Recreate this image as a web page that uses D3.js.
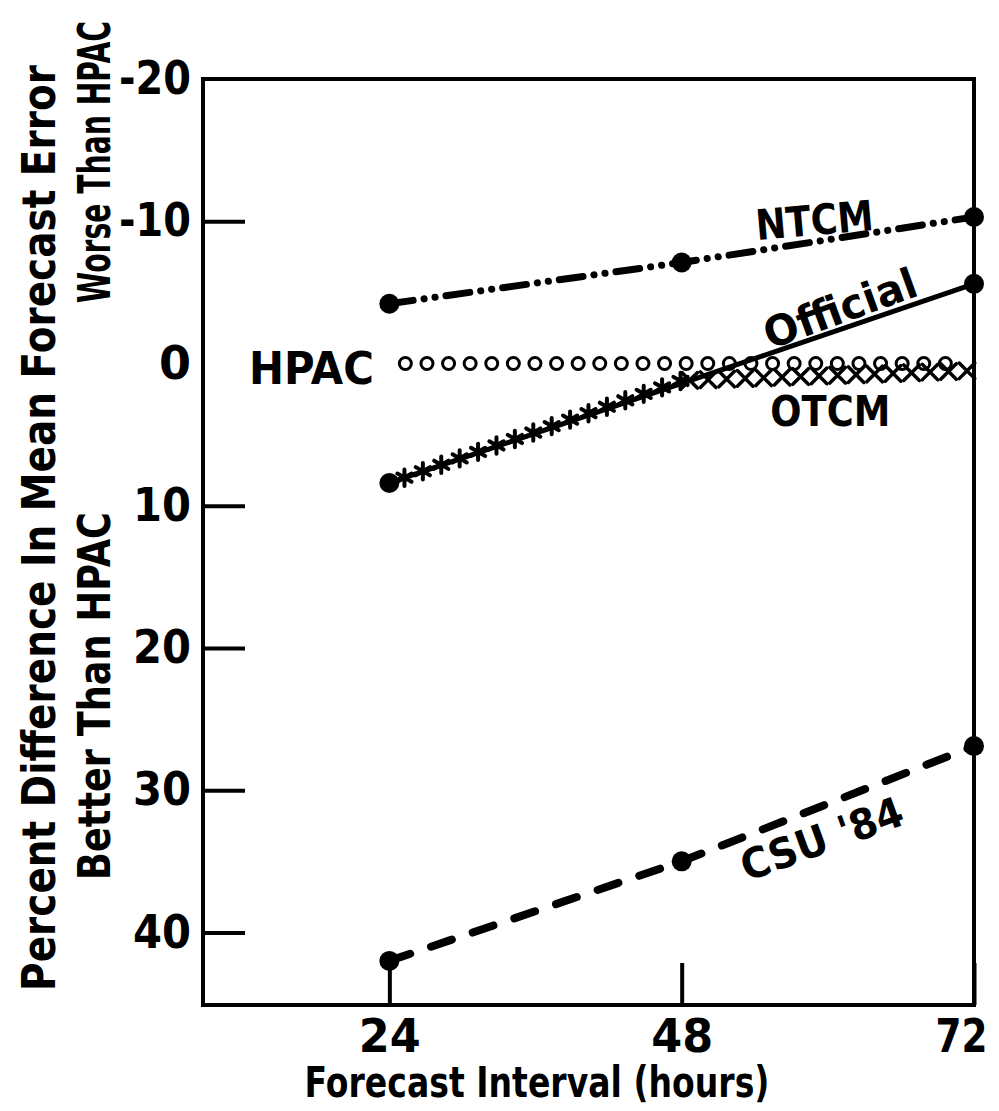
<!DOCTYPE html>
<html>
<head>
<meta charset="utf-8">
<script src="https://cdn.jsdelivr.net/npm/d3@7"></script>
<style>
  body { margin: 0; background: #fff; }
  text { font-family: "DejaVu Sans", sans-serif; fill: #000; }
</style>
</head>
<body>
<svg id="chart" width="999" height="1111"></svg>
<script>
// values
const hours = [24, 48, 72];
const ntcm = [-4.2, -7.1, -10.3];
const official = [8.4, 1.4, -5.6];
const otcm = [8.4, 1.2, 0.5];
const hpac = [0, 0, 0];
const csu84 = [42.0, 35.0, 26.9];
const yTicks = [-20, -10, 0, 10, 20, 30, 40];
const xTicks = [24, 48, 72];

const svg = d3.select("#chart");

// plot box
const boxL = 203, boxR = 974, boxT = 79, boxB = 1005;

const x = d3.scaleLinear().domain([8.7, 72]).range([boxL, boxR]);
const y = d3.scaleLinear().domain([-20, 45.1]).range([boxT, boxB]);

const pts = vals => hours.map((h, i) => [x(h), y(vals[i])]);
const line = d3.line();

// squeeze a text horizontally to a given length (lettering in the figure is narrow)
function squeeze(node, target) {
  const w = node.getComputedTextLength();
  return Math.min(1, target / w);
}

// axes, ticks point inward
const yAxis = svg.append("g")
  .attr("transform", `translate(${boxL},0)`)
  .call(d3.axisLeft(y).tickValues(yTicks).tickSizeInner(-42).tickSizeOuter(0).tickPadding(12)
    .tickFormat(d => d < 0 ? "-" + Math.abs(d) : d));
yAxis.select(".domain").remove();
yAxis.selectAll(".tick line").attr("stroke", "#000").attr("stroke-width", 4)
  .attr("display", d => (d === 0 || d === -20) ? "none" : null);
yAxis.selectAll(".tick text").attr("font-size", 46).attr("font-weight", "bold")
  .each(function(d) {
    const t = d3.select(this);
    const xx = +t.attr("x");
    const k = squeeze(this, d < 0 ? 72 : (d === 0 ? 34 : 58));
    t.attr("x", xx / k).attr("transform", `scale(${k},1)`);
  });

const xAxis = svg.append("g")
  .attr("transform", `translate(0,${boxB})`)
  .call(d3.axisBottom(x).tickValues(xTicks).tickSizeInner(-42).tickSizeOuter(0).tickPadding(14));
xAxis.select(".domain").remove();
xAxis.selectAll(".tick line").attr("stroke", "#000").attr("stroke-width", 4);
xAxis.selectAll(".tick text").attr("font-size", 46).attr("font-weight", "bold")
  .each(function(d) {
    const k = squeeze(this, d === 72 ? 52 : 62);
    d3.select(this).attr("transform", `translate(${d === 72 ? -13 : 0},0) scale(${k},1)`);
  });

svg.append("rect")
  .attr("x", boxL).attr("y", boxT)
  .attr("width", boxR - boxL).attr("height", boxB - boxT)
  .attr("fill", "none").attr("stroke", "#000").attr("stroke-width", 4);

// text placed at (px, py), rotated, squeezed to len
function label(txt, px, py, rot, size, len, dy) {
  const t = svg.append("text")
    .attr("text-anchor", "middle").attr("dy", dy || 0)
    .attr("font-size", size).attr("font-weight", "bold")
    .text(txt);
  const k = squeeze(t.node(), len);
  t.attr("transform", `translate(${px},${py}) rotate(${rot}) scale(${k},1)`);
  return t;
}

// axis titles
label("Forecast  Interval (hours)", 537, 1097, 0, 42, 465);
label("Percent Difference In Mean Forecast Error", 55, 528, -90, 46, 926);
label("Worse Than HPAC", 110, 162, -90, 44, 282);
label("Better Than HPAC", 110, 696, -90, 44, 368);

// helper: spread symbols along a path
function markAlong(d, start, step, endTrim, draw) {
  const p = svg.append("path").attr("d", d).attr("fill", "none").attr("stroke", "none");
  const len = p.node().getTotalLength();
  for (let s = start; s <= len - endTrim; s += step) {
    const q = p.node().getPointAtLength(s);
    draw(q.x, q.y);
  }
  p.remove();
}

// HPAC reference, open circles along zero
markAlong(line(pts(hpac)), 16, 21.6, 8, (cx, cy) => {
  svg.append("circle").attr("cx", cx).attr("cy", cy).attr("r", 6)
    .attr("fill", "#fff").attr("stroke", "#000").attr("stroke-width", 3);
});

// Official, solid
svg.append("path").attr("d", line(pts(official)))
  .attr("fill", "none").attr("stroke", "#000").attr("stroke-width", 5);

// OTCM, asterisks then crosses
const o = pts(otcm);
const star = d3.symbol().type(d3.symbolAsterisk).size(190);
const cross = d3.symbol().type(d3.symbolTimes).size(160);
markAlong(line([o[0], o[1]]), 16, 19.5, 0, (cx, cy) => {
  svg.append("path").attr("d", star()).attr("transform", `translate(${cx},${cy})`)
    .attr("fill", "none").attr("stroke", "#000").attr("stroke-width", 4).attr("stroke-linecap", "round");
});
markAlong(line([o[1], o[2]]), 8, 18.5, 4, (cx, cy) => {
  svg.append("path").attr("d", cross()).attr("transform", `translate(${cx},${cy})`)
    .attr("fill", "none").attr("stroke", "#000").attr("stroke-width", 3.5).attr("stroke-linecap", "round");
});

// NTCM, dash dot dot
svg.append("path").attr("d", line(pts(ntcm)))
  .attr("fill", "none").attr("stroke", "#000").attr("stroke-width", 7)
  .attr("stroke-linecap", "round")
  .attr("stroke-dasharray", "24 11 0.1 11 0.1 11");

// CSU '84, dashed
svg.append("path").attr("d", line(pts(csu84)))
  .attr("fill", "none").attr("stroke", "#000").attr("stroke-width", 8)
  .attr("stroke-linecap", "round")
  .attr("stroke-dasharray", "22 22");

// solid dots
const dotSets = [
  { vals: ntcm, idx: [0, 1, 2] },
  { vals: official, idx: [0, 2] },
  { vals: csu84, idx: [0, 1, 2] }
];
dotSets.forEach(s => {
  svg.append("g").selectAll("circle").data(s.idx).join("circle")
    .attr("cx", i => x(hours[i])).attr("cy", i => y(s.vals[i])).attr("r", 10).attr("fill", "#000");
});

// series labels, anchored in data units
function note(txt, h, v, rot, size, len) {
  label(txt, x(h), y(v), rot, size, len, "0.36em");
}
note("NTCM", 58.9, -10.1, -5, 42, 118);
note("Official", 61.0, -3.9, -20, 42, 160);
note("OTCM", 60.2, 3.3, 0, 42, 120);
note("HPAC", 17.6, 0.35, 0, 44, 125);
note("CSU '84", 59.5, 33.4, -20, 42, 170);
</script>
</body>
</html>
